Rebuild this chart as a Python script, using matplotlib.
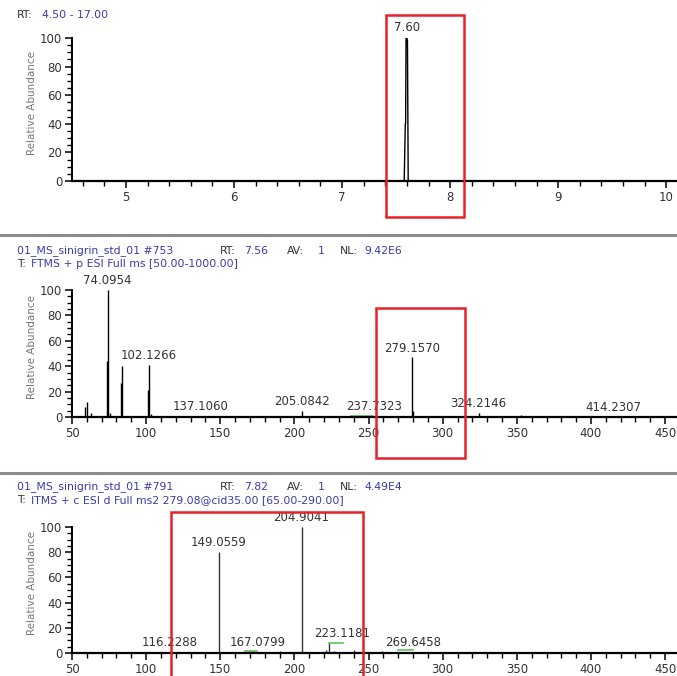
import matplotlib
matplotlib.use("Agg")
import matplotlib.pyplot as plt
from matplotlib.patches import Rectangle
from matplotlib.lines import Line2D
from matplotlib.ticker import MultipleLocator

# chromatogram (RT, relative abundance)
rt = [4.50, 7.575, 7.585, 7.588, 7.592, 7.600, 7.605, 7.612, 10.10]
tic = [0, 0, 40, 40, 100, 100, 98, 0, 0]

# full MS spectrum
ms1_mz = [58.5, 59.8, 63.0, 73.4, 74.1, 75.5, 82.9, 83.5, 101.4, 102.1, 103.0,
          137.1, 205.1, 237.7, 279.2, 280.2, 324.2, 352.7, 414.2]
ms1_int = [8, 12, 3, 44, 100, 3, 27, 40, 21, 41, 2, 1, 5, 1, 47, 5, 3, 1.5, 0.5]
ms1_labels = ["74.0954", "102.1266", "137.1060", "205.0842", "237.7323",
              "279.1570", "324.2146", "414.2307"]
ms1_label_x = [74.1, 101.5, 136.5, 205.1, 254.0, 279.4, 324.2, 415.0]
ms1_label_y = [100, 41, 1, 5, 1, 47, 3, 0.5]

# MS2 spectrum
ms2_mz = [98, 105, 114, 116.2, 149.1, 167.1, 171, 181, 190, 200, 204.9, 221,
          223.1, 227, 236, 240, 259, 261]
ms2_int = [0.5, 0.5, 1, 1, 80, 1, 1.5, 1, 1.5, 1, 100, 2, 8, 1.5, 1, 2, 1.5, 1]
ms2_labels = ["116.2288", "149.0559", "167.0799", "204.9041", "223.1181", "269.6458"]
ms2_label_x = [116.0, 148.7, 175.0, 204.8, 232.0, 280.0]
ms2_label_y = [1, 80, 1, 100, 8, 1]

# green annotation segments (x start, x end, level)
ms1_green = [(238, 253, 1)]
ms2_green = [(167, 175, 1.5), (223, 233, 8), (270, 280, 2.5)]

BLUE = "#3a3aad"
DARK = "#333333"
FS = 8.5
W, H = 677, 676

fig = plt.figure(figsize=(6.77, 6.76), dpi=100)


def fx(x):
    return x / W


def fy(y):
    return 1 - y / H


def header(y, pieces):
    for x, s, c in pieces:
        fig.text(fx(x), fy(y), s, color=c, fontsize=7.8, va="center", ha="left")


def make_ax(top, bottom, xlim, major, minor):
    ax = fig.add_axes([fx(72), fy(bottom), 1 - fx(72), fy(top) - fy(bottom)])
    ax.set_xlim(*xlim)
    ax.set_ylim(0, 100)
    for s in ["top", "right"]:
        ax.spines[s].set_visible(False)
    ax.spines["left"].set_linewidth(1.4)
    ax.spines["bottom"].set_linewidth(1.6)
    ax.xaxis.set_major_locator(MultipleLocator(major))
    ax.xaxis.set_minor_locator(MultipleLocator(minor))
    ax.yaxis.set_major_locator(MultipleLocator(20))
    ax.yaxis.set_minor_locator(MultipleLocator(5))
    ax.tick_params(which="major", length=5, width=1.1, labelsize=FS,
                   labelcolor=DARK, pad=2)
    ax.tick_params(which="minor", length=3.5, width=1.0)
    ax.patch.set_alpha(0)
    fig.text(fx(32), (fy(top) + fy(bottom)) / 2 + 0.01, "Relative Abundance",
             rotation=90, fontsize=7.5, color="#777777", ha="center", va="center")
    return ax


def red_box(ax, x0, x1, y0, y1):
    ax.add_patch(Rectangle((x0, y0), x1 - x0, y1 - y0, fill=False,
                           edgecolor="#e62128", linewidth=1.8, clip_on=False,
                           zorder=5))


# panel 1: chromatogram
header(15, [(17, "RT:", DARK), (42, "4.50 - 17.00", BLUE)])
ax1 = make_ax(38, 181, (4.5, 10.1), 1, 0.2)
ax1.plot(rt, tic, color="black", linewidth=1.0)
ax1.text(7.60, 103, "7.60", ha="center", va="bottom", fontsize=FS, color=DARK)
red_box(ax1, 7.41, 8.13, -25, 116)

# separators
for y in [235, 473]:
    fig.add_artist(Line2D([0, 1], [fy(y), fy(y)], color="#8c8c8c", linewidth=2.2))

# panel 2: full MS
header(251, [(17, "01_MS_sinigrin_std_01 #753", BLUE), (220, "RT:", DARK),
             (244, "7.56", BLUE), (287, "AV:", DARK), (318, "1", BLUE),
             (340, "NL:", DARK), (364, "9.42E6", BLUE)])
header(264, [(17, "T:", DARK), (31, "FTMS + p ESI Full ms [50.00-1000.00]", BLUE)])
ax2 = make_ax(290, 417, (50, 458), 50, 10)
ax2.vlines(ms1_mz, 0, ms1_int, color="black", linewidth=1.0)
for x0, x1, lv in ms1_green:
    ax2.plot([x0, x1], [lv, lv], color="#5ec45e", linewidth=1.2)
for s, x, y in zip(ms1_labels, ms1_label_x, ms1_label_y):
    ax2.annotate(s, (x, y), xytext=(0, 2), textcoords="offset points",
                 ha="center", va="bottom", fontsize=FS, color=DARK)
red_box(ax2, 254.7, 314.9, -32, 86)

# panel 3: MS2
header(487, [(17, "01_MS_sinigrin_std_01 #791", BLUE), (220, "RT:", DARK),
             (244, "7.82", BLUE), (287, "AV:", DARK), (318, "1", BLUE),
             (340, "NL:", DARK), (364, "4.49E4", BLUE)])
header(500, [(17, "T:", DARK),
             (31, "ITMS + c ESI d Full ms2 279.08@cid35.00 [65.00-290.00]", BLUE)])
ax3 = make_ax(527, 653, (50, 458), 50, 10)
ax3.vlines(ms2_mz, 0, ms2_int, color="#333333", linewidth=1.0)
for x0, x1, lv in ms2_green:
    ax3.plot([x0, x1], [lv, lv], color="#5ec45e", linewidth=1.2)
for s, x, y in zip(ms2_labels, ms2_label_x, ms2_label_y):
    ax3.annotate(s, (x, y), xytext=(0, 2), textcoords="offset points",
                 ha="center", va="bottom", fontsize=FS, color=DARK)
red_box(ax3, 116.9, 246, -30, 112)

fig.savefig("out.png", dpi=100)
